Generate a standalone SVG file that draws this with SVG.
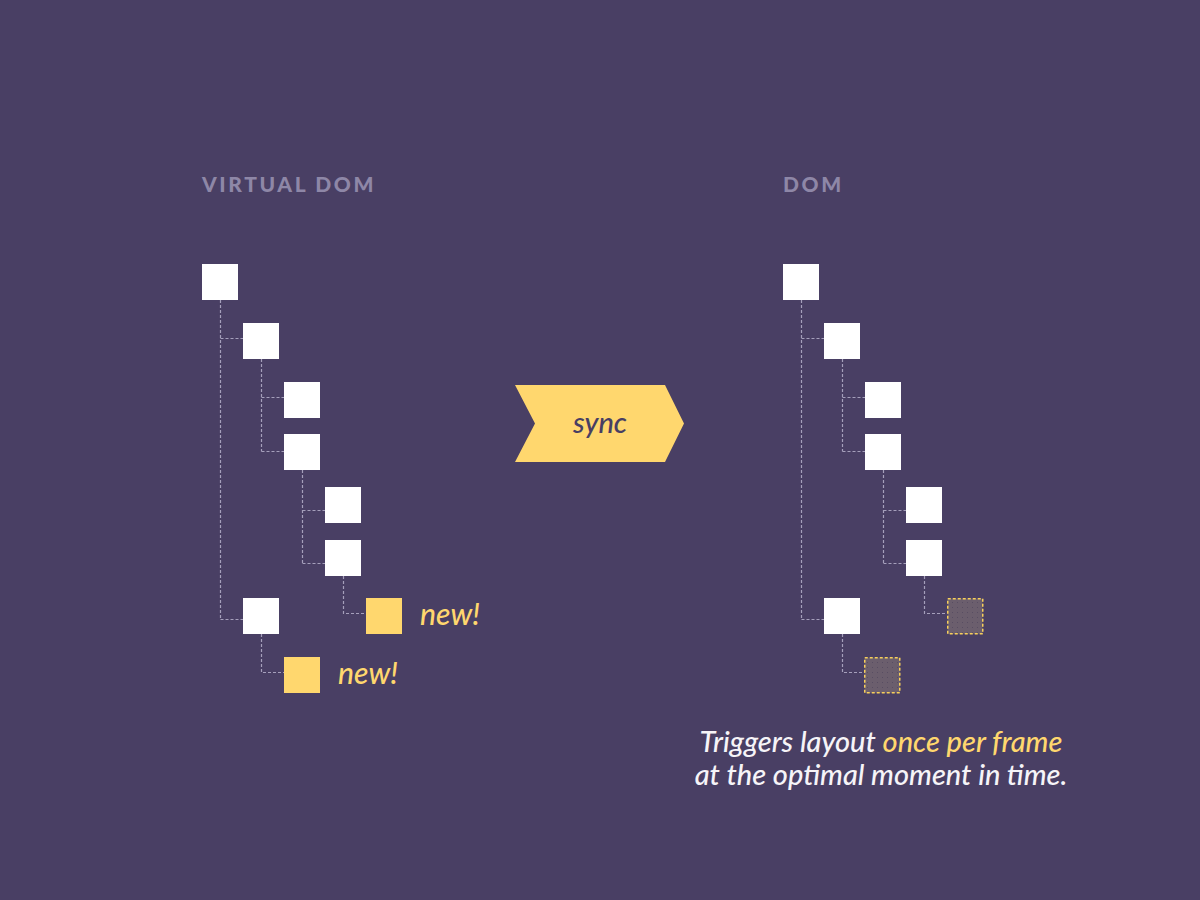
<svg xmlns="http://www.w3.org/2000/svg" width="1200" height="900" viewBox="0 0 1200 900">
<defs>
<pattern id="dots" width="5" height="5" patternUnits="userSpaceOnUse">
<rect width="5" height="5" fill="#6b5e6d"/>
<rect x="2" y="2" width="1" height="1" fill="#584d62"/>
</pattern>
<style>
.title{font-family:Lato,"Noto Sans",sans-serif;font-weight:900;font-size:21px;letter-spacing:2.6px;fill:#8e87a7}
.box{fill:#ffffff}
.new{fill:#ffd76e}
.ph{fill:url(#dots);stroke:#f7cf5b;stroke-width:1.5;stroke-dasharray:3 2}
.lbl{font-family:Lato,"Noto Sans",sans-serif;font-style:italic;font-weight:500;font-size:30px;fill:#ffd76e}
.conn{fill:none;stroke:#a59fbb;stroke-width:1.2;stroke-dasharray:3 2}
.cap{font-family:Lato,"Noto Sans",sans-serif;font-style:italic;font-weight:500;font-size:29px;fill:#f6f4f8}
</style>
</defs>
<rect width="1200" height="900" fill="#493f64"/>

<g id="connectors">
<path class="conn" d="M220.5,300 V619.5 M220.5,338.5 H243 M220.5,619.5 H243 M261.5,359 V451.5 M261.5,397.5 H284 M261.5,451.5 H284 M302.5,470 V563.5 M302.5,510.5 H325 M302.5,563.5 H325 M343.5,576 V613.5 H366 M261.5,634 V672.5 H284"/>
<path class="conn" d="M801.5,300 V619.5 M801.5,338.5 H824 M801.5,619.5 H824 M842.5,359 V451.5 M842.5,397.5 H865 M842.5,451.5 H865 M883.5,470 V563.5 M883.5,510.5 H906 M883.5,563.5 H906 M924.5,576 V613.5 H947 M842.5,634 V672.5 H865"/>
</g>

<g id="vdom-title"><text class="title" x="202" y="192">VIRTUAL DOM</text></g>
<g id="dom-title"><text class="title" x="783" y="192">DOM</text></g>

<g id="vdom-tree">
<g id="v1"><rect class="box" x="202" y="264" width="36" height="36"/></g>
<g id="v2"><rect class="box" x="243" y="323" width="36" height="36"/></g>
<g id="v3"><rect class="box" x="284" y="382" width="36" height="36"/></g>
<g id="v4"><rect class="box" x="284" y="434" width="36" height="36"/></g>
<g id="v5"><rect class="box" x="325" y="487" width="36" height="36"/></g>
<g id="v6"><rect class="box" x="325" y="540" width="36" height="36"/></g>
<g id="v7"><rect class="box" x="243" y="598" width="36" height="36"/></g>
<g id="vnew1"><rect class="new" x="366" y="598" width="36" height="36"/><text class="lbl" x="420" y="625">new!</text></g>
<g id="vnew2"><rect class="new" x="284" y="657" width="36" height="36"/><text class="lbl" x="338" y="684">new!</text></g>
</g>

<g id="sync">
<polygon points="515,385 665,385 684,423.5 665,462 515,462 535,423.5" fill="#ffd76e"/>
<text x="600" y="433" text-anchor="middle" font-family="Lato,'Noto Sans',sans-serif" font-style="italic" font-weight="500" font-size="29" fill="#483e63">sync</text>
</g>

<g id="dom-tree">
<g id="d1"><rect class="box" x="783" y="264" width="36" height="36"/></g>
<g id="d2"><rect class="box" x="824" y="323" width="36" height="36"/></g>
<g id="d3"><rect class="box" x="865" y="382" width="36" height="36"/></g>
<g id="d4"><rect class="box" x="865" y="434" width="36" height="36"/></g>
<g id="d5"><rect class="box" x="906" y="487" width="36" height="36"/></g>
<g id="d6"><rect class="box" x="906" y="540" width="36" height="36"/></g>
<g id="d7"><rect class="box" x="824" y="598" width="36" height="36"/></g>
<g id="dph1"><rect class="ph" x="947.75" y="598.75" width="35" height="35"/></g>
<g id="dph2"><rect class="ph" x="864.75" y="657.75" width="35" height="35"/></g>
</g>

<g id="caption">
<text class="cap" x="881" y="752" text-anchor="middle">Triggers layout <tspan fill="#ffd76e">once per frame</tspan></text>
<text class="cap" x="881" y="785" text-anchor="middle">at the optimal moment in time.</text>
</g>
</svg>
